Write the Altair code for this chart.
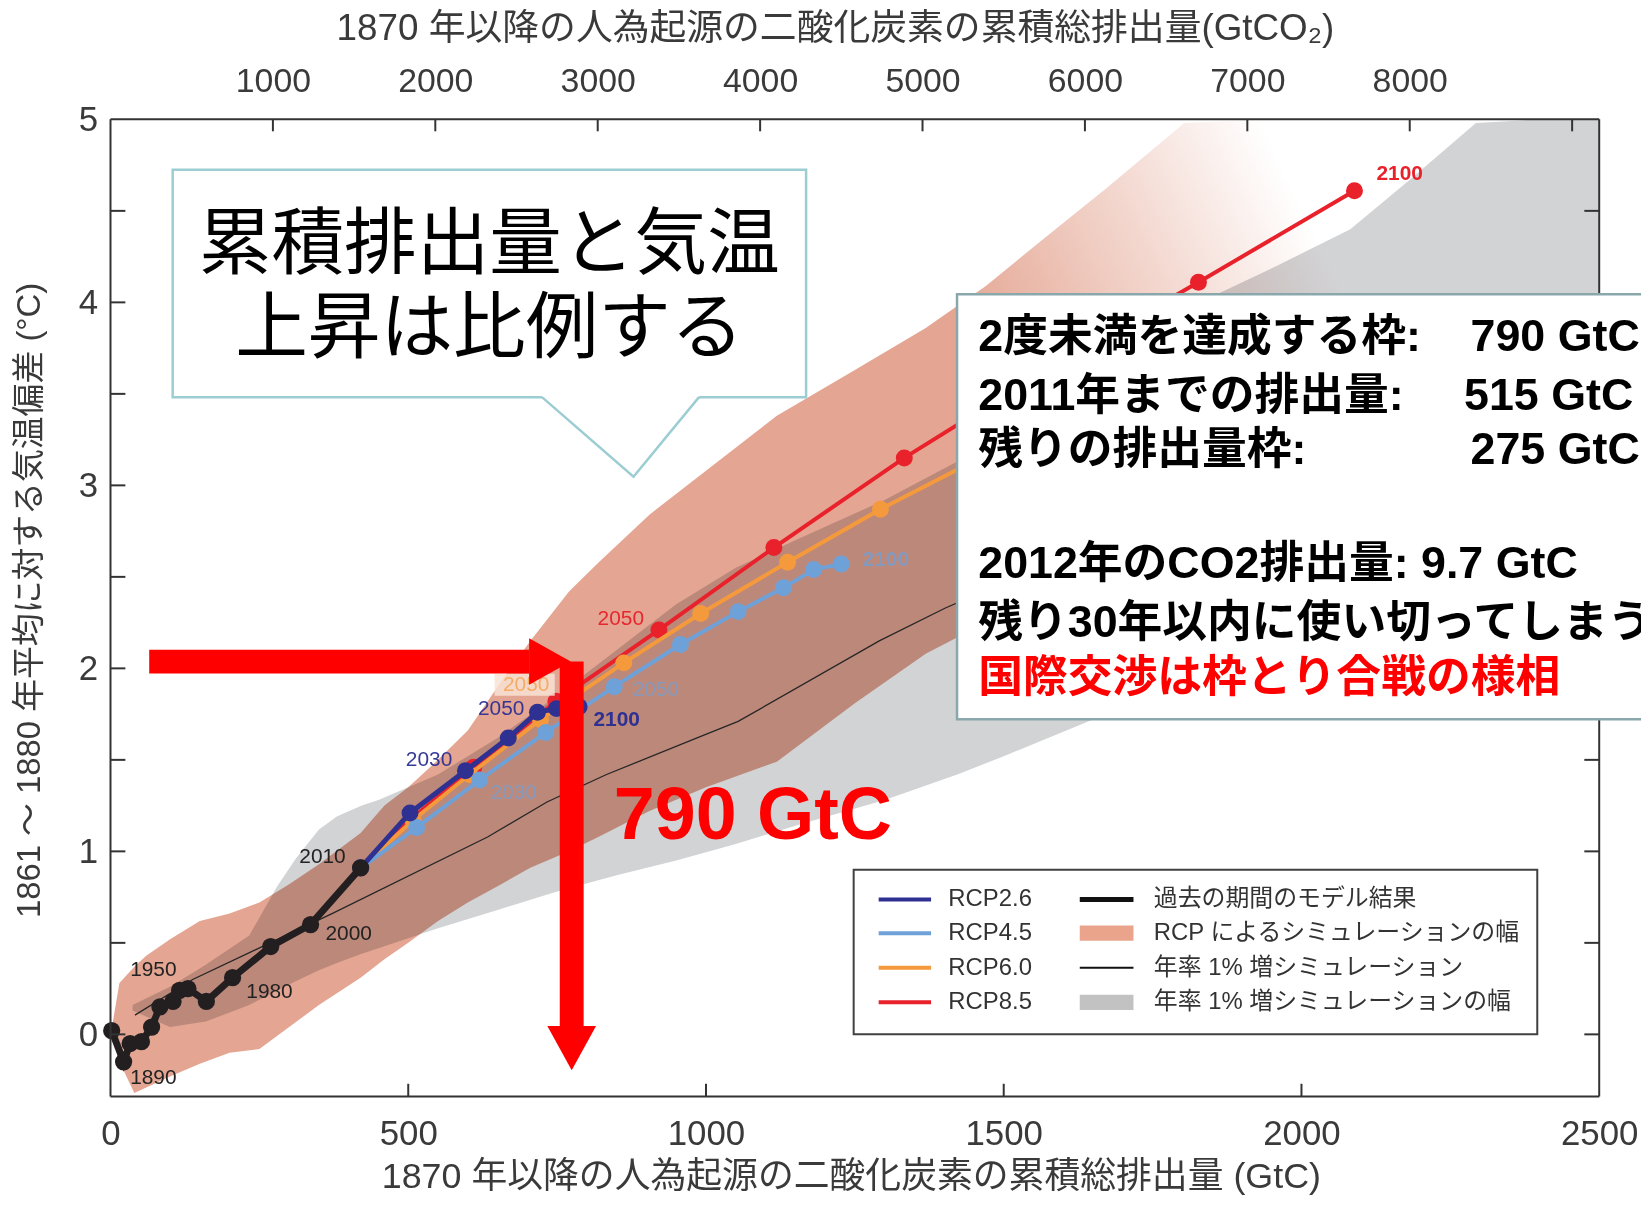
import altair as alt
import pandas as pd

# ---------------- values (x: GtC, y: degC) ----------------
hist_x = [2, 22, 33, 52, 69, 83, 105, 116, 130, 161, 205, 269, 336, 420]
hist_y = [0.02, -0.15, -0.05, -0.04, 0.04, 0.15, 0.18, 0.24, 0.25, 0.18, 0.31, 0.48, 0.60, 0.91]

rcp26_x = [420, 503, 596, 668, 717, 749, 762, 772, 780, 787]
rcp26_y = [0.91, 1.21, 1.44, 1.62, 1.76, 1.78, 1.78, 1.78, 1.79, 1.79]
rcp45_x = [420, 514, 620, 731, 846, 957, 1054, 1130, 1181, 1227]
rcp45_y = [0.91, 1.13, 1.39, 1.65, 1.90, 2.13, 2.31, 2.44, 2.54, 2.57]
rcp60_x = [420, 508, 603, 722, 862, 991, 1137, 1293, 1460, 1640]
rcp60_y = [0.91, 1.17, 1.42, 1.72, 2.03, 2.30, 2.58, 2.87, 3.15, 3.42]
rcp85_x = [420, 506, 610, 748, 921, 1114, 1333, 1570, 1827, 2089]
rcp85_y = [0.91, 1.18, 1.46, 1.82, 2.21, 2.66, 3.15, 3.63, 4.11, 4.61]

pct_x = [41, 138, 372, 634, 733, 833, 985, 1054, 1291, 1402, 1700]
pct_y = [0.105, 0.30, 0.66, 1.08, 1.27, 1.42, 1.62, 1.71, 2.15, 2.33, 2.75]

rcp_band_x = [3, 15, 40, 60, 100, 150, 200, 250, 300, 350, 420, 460, 500, 550, 600, 650,
              705, 770, 820, 905, 1000, 1119, 1250, 1369, 1470, 1564, 1675, 1803, 1950, 2100, 2300, 2500]
rcp_band_hi = [0.05, 0.28, 0.37, 0.43, 0.52, 0.62, 0.66, 0.72, 0.82, 0.93, 1.10, 1.25, 1.35, 1.50, 1.66, 1.90,
               2.15, 2.42, 2.58, 2.84, 3.08, 3.38, 3.63, 3.86, 4.09, 4.34, 4.63, 4.98, 5.4, 5.8, 6.2, 6.6]
rcp_band_lo = [0.0, -0.15, -0.32, -0.29, -0.23, -0.16, -0.10, -0.08, 0.04, 0.16, 0.31, 0.41, 0.50, 0.62, 0.72, 0.81,
               0.91, 1.00, 1.08, 1.22, 1.35, 1.49, 1.81, 2.08, 2.25, 2.40, 2.55, 2.70, 2.85, 3.0, 3.3, 3.6]

pct_band_x = [37, 100, 160, 233, 280, 311, 350, 380, 422, 450, 550, 650, 750, 850, 950, 1050, 1150,
              1300, 1422, 1500, 1650, 1842, 1959, 2082, 2182, 2293, 2400, 2500]
pct_band_hi = [0.16, 0.26, 0.38, 0.54, 0.81, 0.96, 1.12, 1.19, 1.25, 1.28, 1.42, 1.62, 1.85, 2.10, 2.35, 2.55, 2.70,
               2.92, 3.13, 3.28, 3.60, 4.02, 4.20, 4.40, 4.67, 4.98, 5.3, 5.6]
pct_band_lo = [0.13, 0.04, 0.07, 0.16, 0.24, 0.29, 0.35, 0.39, 0.44, 0.47, 0.58, 0.68, 0.78, 0.87, 0.95, 1.04, 1.14,
               1.28, 1.42, 1.52, 1.72, 1.93, 2.05, 2.20, 2.33, 2.45, 2.6, 2.7]

# year labels on the curves
hist_lab_text = ["1890", "1950", "1980", "2000", "2010"]
hist_lab_x = [72, 72, 267, 400, 356]
hist_lab_y = [-0.24, 0.35, 0.23, 0.55, 0.97]
col_lab_text = ["2030", "2050", "2030", "2050", "2050", "2050"]
col_lab_series = ["RCP2.6", "RCP2.6", "RCP4.5", "RCP4.5", "RCP6.0", "RCP8.5"]
col_lab_x = [535, 656, 677, 916, 698, 857]
col_lab_y = [1.50, 1.78, 1.32, 1.88, 1.91, 2.27]
bold_lab_text = ["2100", "2100", "2100"]
bold_lab_series = ["RCP2.6", "RCP4.5", "RCP8.5"]
bold_lab_x = [850, 1302, 2165]
bold_lab_y = [1.72, 2.59, 4.70]

# axes
x_ticks = [0, 500, 1000, 1500, 2000, 2500]
y_labels = [0, 1, 2, 3, 4, 5]
y_ticks = [0, 0.5, 1, 1.5, 2, 2.5, 3, 3.5, 4, 4.5]
co2_ticks = [1000, 2000, 3000, 4000, 5000, 6000, 7000, 8000, 9000]
co2_labels = [1000, 2000, 3000, 4000, 5000, 6000, 7000, 8000]

x_title = "1870 年以降の人為起源の二酸化炭素の累積総排出量 (GtC)"
top_title = "1870 年以降の人為起源の二酸化炭素の累積総排出量(GtCO\u2082)"
y_title = "1861 ～ 1880 年平均に対する気温偏差 (°C)"

# legend
legend_rcp = ["RCP2.6", "RCP4.5", "RCP6.0", "RCP8.5"]
legend_other = ["過去の期間のモデル結果", "RCP によるシミュレーションの幅",
                "年率 1% 増シミュレーション", "年率 1% 増シミュレーションの幅"]

# annotation texts
callout_lines = ["累積排出量と気温", "上昇は比例する"]
info_lines = ["2度未満を達成する枠:", "2011年までの排出量:", "残りの排出量枠:",
              "2012年のCO2排出量: 9.7 GtC", "残り30年以内に使い切ってしまう"]
info_values = ["790 GtC", "515 GtC", "275 GtC"]
info_red = "国際交渉は枠とり合戦の様相"
budget_text = "790 GtC"

# annotation anchor positions (data units)
callout_box = (104.4, 1168.1, 3.482, 4.725)
callout_ptr_x = [724.6, 878.3, 988.3]
callout_ptr_y = [3.482, 3.047, 3.482]
callout_text_x = 636.2
callout_text_y = [4.306, 3.849]
info_box = (1421.6, 2600, 1.722, 4.044)
info_text_x = 1457.2
info_text_y = [3.813, 3.490, 3.191, 2.568, 2.250]
info_red_y = 1.945
info_value_x = [2284, 2273, 2284]
budget_pos = (845.1, 1.069)
arrow_h = (65, 703, 2.037)
arrow_h_head_y = [1.91, 2.037, 2.165]
arrow_h_head_x2 = [703, 773, 703]
arrow_v = (774.5, 2.037, 0.045)
arrow_v_head_x = [733.6, 774.5, 815.4]
arrow_v_head_y2 = [0.045, -0.196, 0.045]
orange_box = (645, 746, 1.85, 1.97)
legend_box = (1248, 2396, 0.0, 0.90)
legend_rows_y = [0.737, 0.553, 0.364, 0.175]
legend_col1 = (1290, 1378, 1407)
legend_col2 = (1627.7, 1717.9, 1752)

# ---------------- styles ----------------
C26, C45, C60, C85 = "#2e3192", "#6fa1d9", "#f59a3c", "#e8212b"
SER_COL = {"RCP2.6": C26, "RCP4.5": C45, "RCP6.0": C60, "RCP8.5": C85}
PINK, GRAY = "#e4a592", "#d2d3d5"
FRAME, LABEL = "#333333", "#3a3a3a"
LAT = "Liberation Sans"
MIX = '"Liberation Sans", "Noto Sans CJK JP"'
CJK = '"Noto Sans CJK JP"'
RED = "#ff0000"

XS = alt.Scale(domain=[0, 2500], nice=False, zero=False)
YS = alt.Scale(domain=[-0.34, 5], nice=False, zero=False, clamp=True)


def X(f, axis=None):
    if axis is None:
        return alt.X(f, type="quantitative", scale=XS)
    return alt.X(f, type="quantitative", scale=XS, axis=axis)


def Y(f, axis=None):
    if axis is None:
        return alt.Y(f, type="quantitative", scale=YS)
    return alt.Y(f, type="quantitative", scale=YS, axis=axis)


x_axis = alt.Axis(values=x_ticks, ticks=False, tickSize=0, domain=False, grid=False, labelFlush=False,
                  labelFont=LAT, labelFontSize=35, labelColor=LABEL, labelPadding=20, format="d",
                  title=x_title, titleFont=MIX, titleFontSize=36, titleFontWeight="normal", titleColor=LABEL,
                  titleX=744, titleY=80, titleAlign="center", titleBaseline="middle")
y_axis = alt.Axis(values=y_labels, ticks=False, tickSize=0, domain=False, grid=False, labelFlush=False,
                  labelFont=LAT, labelFontSize=35, labelColor=LABEL, labelPadding=13, format="d",
                  title=y_title, titleFont=MIX, titleFontSize=33, titleFontWeight="normal", titleColor=LABEL,
                  titleX=-81, titleY=483, titleAngle=270, titleAlign="center", titleBaseline="middle")

layers = []

# bands
pct_band = pd.DataFrame({"x": pct_band_x, "hi": pct_band_hi, "lo": pct_band_lo})
layers.append(alt.Chart(pct_band).mark_area(color=GRAY).encode(
    x=X("x", x_axis), y=Y("hi", y_axis), y2=alt.Y2("lo")))

rcp_band = pd.DataFrame({"x": rcp_band_x, "hi": rcp_band_hi, "lo": rcp_band_lo})
pink_fill = {"gradient": "linear", "x1": 0.57, "y1": 0.215, "x2": 0.815, "y2": 0.138,
             "stops": [{"offset": 0, "color": PINK}, {"offset": 1, "color": "#ffffff"}]}
layers.append(alt.Chart(rcp_band).mark_area(color=pink_fill, blend="multiply").encode(
    x=X("x"), y=Y("hi"), y2=alt.Y2("lo")))

# 1%/yr simulation line
layers.append(alt.Chart(pd.DataFrame({"x": pct_x, "y": pct_y})).mark_line(
    color="#262626", strokeWidth=1.3).encode(x=X("x"), y=Y("y")))

# callout (speech bubble)
cb = pd.DataFrame({"x": [callout_box[0]], "x2": [callout_box[1]], "y": [callout_box[2]], "y2": [callout_box[3]]})
layers.append(alt.Chart(cb).mark_rect(fill="white", stroke="#9ccdd2", strokeWidth=2.5).encode(
    x=X("x"), x2=alt.X2("x2"), y=Y("y"), y2=alt.Y2("y2")))
ptr = pd.DataFrame({"x": callout_ptr_x, "y": callout_ptr_y})
layers.append(alt.Chart(ptr).mark_area(color="white").encode(
    x=X("x"), y=alt.Y("top:Q", scale=YS), y2=alt.Y2("y")).transform_calculate(top=str(callout_box[2] + 0.012)))
layers.append(alt.Chart(ptr).mark_line(color="#9ccdd2", strokeWidth=2.5).encode(x=X("x"), y=Y("y")))
ct = pd.DataFrame({"x": [callout_text_x] * 2, "y": callout_text_y, "t": callout_lines})
layers.append(alt.Chart(ct).mark_text(font=CJK, fontSize=73, fontWeight="normal", color="black",
                                      align="center", baseline="middle").encode(x=X("x"), y=Y("y"), text="t:N"))

# RCP series
for xs, ys, col, w in [(rcp85_x, rcp85_y, C85, 4), (rcp60_x, rcp60_y, C60, 4),
                       (rcp45_x, rcp45_y, C45, 4), (rcp26_x, rcp26_y, C26, 5)]:
    d = pd.DataFrame({"x": xs, "y": ys})
    layers.append(alt.Chart(d).mark_line(color=col, strokeWidth=w).encode(x=X("x"), y=Y("y")))
    layers.append(alt.Chart(d).mark_circle(color=col, size=290, opacity=1).encode(x=X("x"), y=Y("y")))

# historical
hd = pd.DataFrame({"x": hist_x, "y": hist_y})
layers.append(alt.Chart(hd).mark_line(color="#231f20", strokeWidth=7).encode(x=X("x"), y=Y("y")))
layers.append(alt.Chart(hd).mark_circle(color="#231f20", size=300, opacity=1).encode(x=X("x"), y=Y("y")))

# labels on curves
ob = pd.DataFrame({"x": [orange_box[0]], "x2": [orange_box[1]], "y": [orange_box[2]], "y2": [orange_box[3]]})
layers.append(alt.Chart(ob).mark_rect(fill="#f8e3d6", opacity=0.85).encode(
    x=X("x"), x2=alt.X2("x2"), y=Y("y"), y2=alt.Y2("y2")))
hl = pd.DataFrame({"x": hist_lab_x, "y": hist_lab_y, "t": hist_lab_text})
layers.append(alt.Chart(hl).mark_text(font=LAT, fontSize=21, color="#222222").encode(
    x=X("x"), y=Y("y"), text="t:N"))
cl = pd.DataFrame({"x": col_lab_x, "y": col_lab_y, "t": col_lab_text,
                   "c": [SER_COL[s] for s in col_lab_series],
                   "o": [0.95 if s in ("RCP2.6", "RCP8.5") else 0.7 for s in col_lab_series]})
layers.append(alt.Chart(cl).mark_text(font=LAT, fontSize=21).encode(
    x=X("x"), y=Y("y"), text="t:N", color=alt.Color("c:N", scale=None), opacity=alt.Opacity("o:Q", scale=None)))
bl = pd.DataFrame({"x": bold_lab_x, "y": bold_lab_y, "t": bold_lab_text,
                   "c": [SER_COL[s] for s in bold_lab_series],
                   "o": [1.0, 0.7, 1.0]})
layers.append(alt.Chart(bl).mark_text(font=LAT, fontSize=21, fontWeight="bold").encode(
    x=X("x"), y=Y("y"), text="t:N", color=alt.Color("c:N", scale=None), opacity=alt.Opacity("o:Q", scale=None)))

# frame and inward ticks
frame = pd.DataFrame({"x": [0, 0, 0, 2500], "x2": [2500, 2500, 0, 2500],
                      "y": [-0.34, 5, -0.34, -0.34], "y2": [-0.34, 5, 5, 5]})
ticks = pd.DataFrame({
    "x": [0] * len(y_ticks) + [2475] * len(y_ticks) + x_ticks[1:-1],
    "x2": [25] * len(y_ticks) + [2500] * len(y_ticks) + x_ticks[1:-1],
    "y": y_ticks + y_ticks + [-0.34] * (len(x_ticks) - 2),
    "y2": y_ticks + y_ticks + [-0.27] * (len(x_ticks) - 2)})
for d in (frame, ticks):
    layers.append(alt.Chart(d).mark_rule(color=FRAME, strokeWidth=2).encode(
        x=X("x"), x2=alt.X2("x2"), y=Y("y"), y2=alt.Y2("y2")))

# big red arrow
ah = pd.DataFrame({"x": [arrow_h[0], arrow_v[0]], "x2": [arrow_h[1], arrow_v[0]],
                   "y": [arrow_h[2], arrow_v[1]], "y2": [arrow_h[2], arrow_v[2]]})
layers.append(alt.Chart(ah).mark_rule(color=RED, strokeWidth=24, strokeCap="butt").encode(
    x=X("x"), x2=alt.X2("x2"), y=Y("y"), y2=alt.Y2("y2")))
hh = pd.DataFrame({"y": arrow_h_head_y, "x2": arrow_h_head_x2})
layers.append(alt.Chart(hh).mark_area(color=RED, orient="horizontal").encode(
    y=Y("y"), x=alt.X("base:Q", scale=XS), x2=alt.X2("x2")).transform_calculate(base=str(arrow_h[1])))
vh = pd.DataFrame({"x": arrow_v_head_x, "y2": arrow_v_head_y2})
layers.append(alt.Chart(vh).mark_area(color=RED).encode(
    x=X("x"), y=alt.Y("base:Q", scale=YS), y2=alt.Y2("y2")).transform_calculate(base=str(arrow_v[2])))
bt = pd.DataFrame({"x": [budget_pos[0]], "y": [budget_pos[1]], "t": [budget_text]})
layers.append(alt.Chart(bt).mark_text(font=LAT, fontSize=74, fontWeight="bold", color=RED,
                                      align="left", baseline="alphabetic").encode(x=X("x"), y=Y("y"), text="t:N"))

# legend
lb = pd.DataFrame({"x": [legend_box[0]], "x2": [legend_box[1]], "y": [legend_box[2]], "y2": [legend_box[3]]})
layers.append(alt.Chart(lb).mark_rect(fill="white", stroke="#404040", strokeWidth=2).encode(
    x=X("x"), x2=alt.X2("x2"), y=Y("y"), y2=alt.Y2("y2")))
l1 = pd.DataFrame({"x": [legend_col1[0]] * 4, "x2": [legend_col1[1]] * 4, "y": legend_rows_y,
                   "c": [C26, C45, C60, C85]})
layers.append(alt.Chart(l1).mark_rule(strokeWidth=4).encode(
    x=X("x"), x2=alt.X2("x2"), y=Y("y"), color=alt.Color("c:N", scale=None)))
l2 = pd.DataFrame({"x": [legend_col2[0]] * 2, "x2": [legend_col2[1]] * 2,
                   "y": [legend_rows_y[0], legend_rows_y[2]], "w": [5, 2]})
layers.append(alt.Chart(l2).mark_rule(color="#111111").encode(
    x=X("x"), x2=alt.X2("x2"), y=Y("y"), strokeWidth=alt.StrokeWidth("w:Q", scale=None)))
l3 = pd.DataFrame({"x": [legend_col2[0]] * 2, "x2": [legend_col2[1]] * 2,
                   "y": [legend_rows_y[1] - 0.042, legend_rows_y[3] - 0.042],
                   "y2": [legend_rows_y[1] + 0.042, legend_rows_y[3] + 0.042],
                   "c": ["#eaa48c", "#c2c2c2"]})
layers.append(alt.Chart(l3).mark_rect().encode(
    x=X("x"), x2=alt.X2("x2"), y=Y("y"), y2=alt.Y2("y2"), color=alt.Color("c:N", scale=None)))
lt = pd.DataFrame({"x": [legend_col1[2]] * 4 + [legend_col2[2]] * 4, "y": legend_rows_y * 2,
                   "t": legend_rcp + legend_other})
layers.append(alt.Chart(lt).mark_text(font=MIX, fontSize=24, color="#333333", align="left",
                                      baseline="middle").encode(x=X("x"), y=Y("y"), text="t:N"))

# info box
ib = pd.DataFrame({"x": [info_box[0]], "x2": [info_box[1]], "y": [info_box[2]], "y2": [info_box[3]]})
layers.append(alt.Chart(ib).mark_rect(fill="white", stroke="#8aa8ac", strokeWidth=2.5).encode(
    x=X("x"), x2=alt.X2("x2"), y=Y("y"), y2=alt.Y2("y2")))
it = pd.DataFrame({"x": [info_text_x] * len(info_lines) + info_value_x,
                   "y": info_text_y + info_text_y[:3], "t": info_lines + info_values})
layers.append(alt.Chart(it).mark_text(font=MIX, fontSize=45, fontWeight="bold", color="black",
                                      align="left", baseline="middle").encode(x=X("x"), y=Y("y"), text="t:N"))
ir = pd.DataFrame({"x": [info_text_x], "y": [info_red_y], "t": [info_red]})
layers.append(alt.Chart(ir).mark_text(font=CJK, fontSize=45, fontWeight="bold", color=RED,
                                      align="left", baseline="middle").encode(x=X("x"), y=Y("y"), text="t:N"))

main = alt.layer(*layers)

# top axis in GtCO2
top_df = pd.DataFrame({"co2": co2_ticks})
top_layer = alt.Chart(top_df).mark_rule(color=FRAME, strokeWidth=2).encode(
    x=alt.X("co2:Q", scale=alt.Scale(domain=[0, 2500 * 44 / 12], nice=False, zero=False),
            axis=alt.Axis(orient="top", values=co2_labels, ticks=False, tickSize=0, domain=False, grid=False,
                          labelFlush=False, labelFont=LAT, labelFontSize=34, labelColor=LABEL,
                          labelPadding=21, format="d",
                          title=top_title, titleFont=MIX, titleFontSize=37, titleFontWeight="normal",
                          titleColor=LABEL, titleX=728, titleY=-91, titleAlign="center",
                          titleBaseline="middle")),
    y=alt.value(0), y2=alt.value(12))

chart = alt.layer(main, top_layer).resolve_scale(x="independent").properties(
    width=1496, height=982,
    padding={"left": 103, "top": 109, "right": 42, "bottom": 98},
    autosize=alt.AutoSizeParams(type="none"),
    background="white",
).configure_view(stroke=None).configure_axis(grid=False)

chart.save("out.html", embed_options={"renderer": "svg", "actions": False})
